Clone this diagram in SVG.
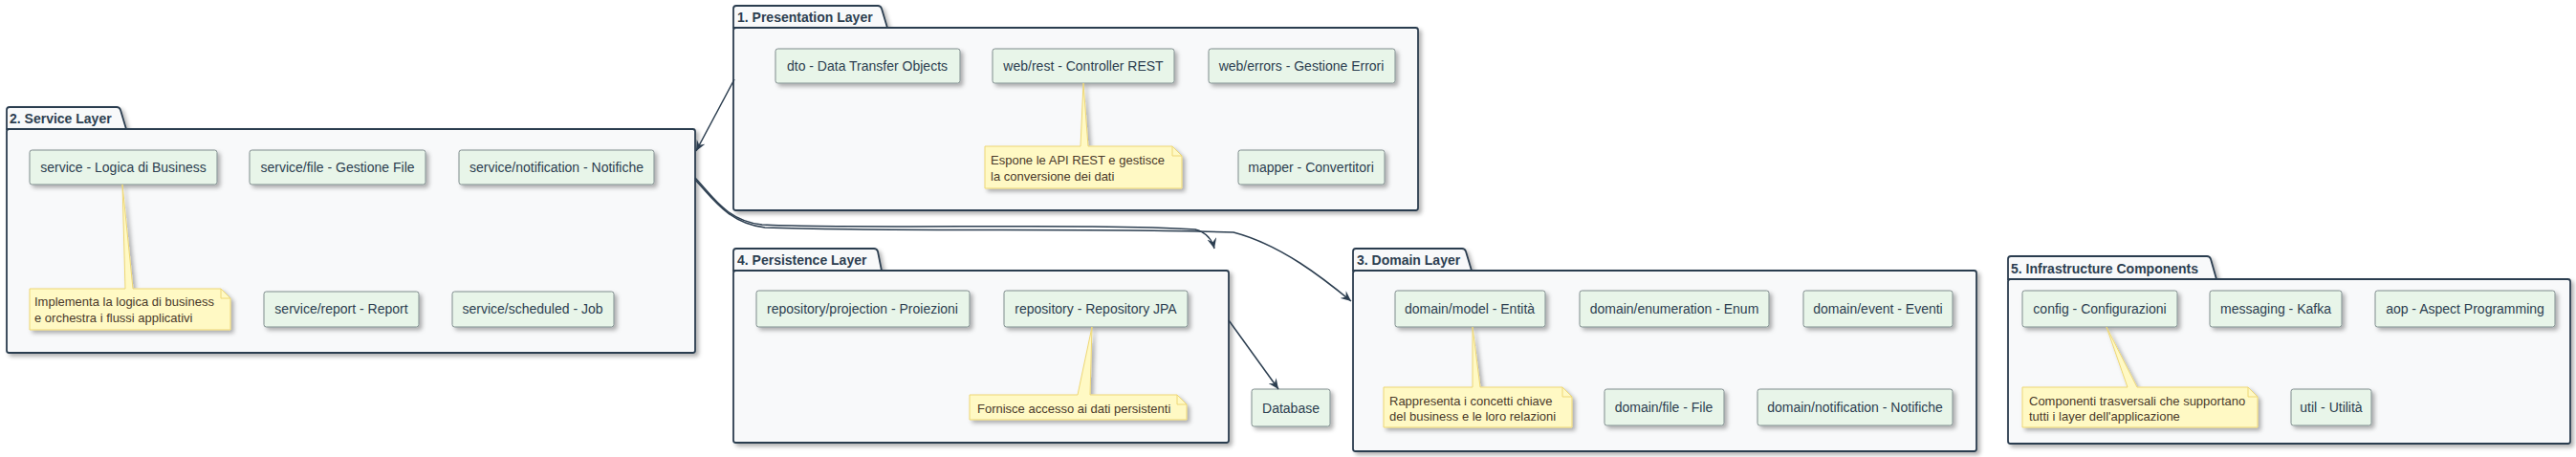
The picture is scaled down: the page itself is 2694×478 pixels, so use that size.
<svg xmlns="http://www.w3.org/2000/svg" width="2694" height="478" viewBox="0 0 2694 478">
<defs>
<filter id="sh" x="-10%" y="-10%" width="130%" height="140%">
<feDropShadow dx="3" dy="3" stdDeviation="2" flood-color="#000" flood-opacity="0.3"/>
</filter>
<marker id="arr" viewBox="0 0 12 10" refX="11" refY="5" markerWidth="12" markerHeight="10" markerUnits="userSpaceOnUse" orient="auto">
<path d="M0,0 L11,5 L0,10 L4,5 Z" fill="#2c3e50"/>
</marker>
<style>
.pkg{fill:#F8F9FA;stroke:#2c3e50;stroke-width:1.8;filter:url(#sh)}
.ptitle{font-family:"Liberation Sans",Arial,sans-serif;font-size:14px;font-weight:bold;fill:#2c3e50}
.node{fill:#E8F5E9;stroke:#7f8c8d;stroke-width:1;filter:url(#sh)}
.nt{font-family:"Liberation Sans",Arial,sans-serif;font-size:14px;fill:#2c3e50;text-anchor:middle}
.note{fill:#FFF9C4;stroke:#EED774;stroke-width:1;filter:url(#sh)}
.fold{fill:none;stroke:#EED774;stroke-width:1}
.ntxt{font-family:"Liberation Sans",Arial,sans-serif;font-size:13px;fill:#4a3a2a}
.conn{fill:none;stroke:#2c3e50;stroke-width:1.5}
</style>
</defs>

<g id="pkg-presentation">
<path class="pkg" d="M767,29 L767,9 Q767,6 770,6 L918,6 Q921,6 922,9 L928,29 Z"/>
<rect class="pkg" x="767" y="29" width="716" height="191" rx="2.5"/>
<text class="ptitle" x="771" y="23">1. Presentation Layer</text>
</g>
<g id="pkg-service">
<path class="pkg" d="M7,135 L7,115 Q7,112 10,112 L122,112 Q125,112 126,115 L132,135 Z"/>
<rect class="pkg" x="7" y="135" width="720" height="234" rx="2.5"/>
<text class="ptitle" x="10" y="129">2. Service Layer</text>
</g>
<g id="pkg-persistence">
<path class="pkg" d="M767,283 L767,263 Q767,260 770,260 L914,260 Q917,260 918,263 L922,283 Z"/>
<rect class="pkg" x="767" y="283" width="518" height="180" rx="2.5"/>
<text class="ptitle" x="771" y="277">4. Persistence Layer</text>
</g>
<g id="pkg-domain">
<path class="pkg" d="M1415,283 L1415,263 Q1415,260 1418,260 L1529,260 Q1532,260 1533,263 L1539,283 Z"/>
<rect class="pkg" x="1415" y="283" width="652" height="189" rx="2.5"/>
<text class="ptitle" x="1419" y="277">3. Domain Layer</text>
</g>
<g id="pkg-infrastructure">
<path class="pkg" d="M2100,292 L2100,271 Q2100,268 2103,268 L2308,268 Q2311,268 2312,271 L2318,292 Z"/>
<rect class="pkg" x="2100" y="292" width="588" height="172" rx="2.5"/>
<text class="ptitle" x="2103" y="286">5. Infrastructure Components</text>
</g>

<!-- Presentation nodes -->
<g id="dto"><rect class="node" x="811" y="51" width="193" height="36" rx="2.5"/><text class="nt" x="907" y="74">dto - Data Transfer Objects</text></g>
<g id="web-rest"><rect class="node" x="1038" y="51" width="190" height="36" rx="2.5"/><text class="nt" x="1133" y="74">web/rest - Controller REST</text></g>
<g id="web-errors"><rect class="node" x="1264" y="51" width="195" height="36" rx="2.5"/><text class="nt" x="1361" y="74">web/errors - Gestione Errori</text></g>
<g id="mapper"><rect class="node" x="1295" y="157" width="153" height="36" rx="2.5"/><text class="nt" x="1371" y="180">mapper - Convertitori</text></g>
<g id="note-presentation">
<path class="note" d="M1030,153 L1130,153 L1133,87 L1138,153 L1226,153 L1236,163 L1236,197 L1030,197 Z"/>
<path class="fold" d="M1226,153 L1226,163 L1236,163"/>
<text class="ntxt" x="1036" y="172">Espone le API REST e gestisce</text>
<text class="ntxt" x="1036" y="189">la conversione dei dati</text>
</g>

<!-- Service nodes -->
<g id="service"><rect class="node" x="31" y="157" width="196" height="36" rx="2.5"/><text class="nt" x="129" y="180">service - Logica di Business</text></g>
<g id="service-file"><rect class="node" x="261" y="157" width="184" height="36" rx="2.5"/><text class="nt" x="353" y="180">service/file - Gestione File</text></g>
<g id="service-notification"><rect class="node" x="480" y="157" width="204" height="36" rx="2.5"/><text class="nt" x="582" y="180">service/notification - Notifiche</text></g>
<g id="service-report"><rect class="node" x="276" y="305" width="162" height="37" rx="2.5"/><text class="nt" x="357" y="328">service/report - Report</text></g>
<g id="service-scheduled"><rect class="node" x="473" y="305" width="169" height="37" rx="2.5"/><text class="nt" x="557" y="328">service/scheduled - Job</text></g>
<g id="note-service">
<path class="note" d="M31,302 L131,302 L128,193 L139,302 L231,302 L241,312 L241,345 L31,345 Z"/>
<path class="fold" d="M231,302 L231,312 L241,312"/>
<text class="ntxt" x="36" y="320">Implementa la logica di business</text>
<text class="ntxt" x="36" y="337">e orchestra i flussi applicativi</text>
</g>

<!-- Persistence nodes -->
<g id="repo-projection"><rect class="node" x="791" y="304" width="223" height="38" rx="2.5"/><text class="nt" x="902" y="328">repository/projection - Proiezioni</text></g>
<g id="repository"><rect class="node" x="1050" y="304" width="192" height="38" rx="2.5"/><text class="nt" x="1146" y="328">repository - Repository JPA</text></g>
<g id="note-persistence">
<path class="note" d="M1014,413 L1127,413 L1142,342 L1140,413 L1231,413 L1241,423 L1241,439 L1014,439 Z"/>
<path class="fold" d="M1231,413 L1231,423 L1241,423"/>
<text class="ntxt" x="1022" y="432">Fornisce accesso ai dati persistenti</text>
</g>

<g id="database"><rect class="node" x="1309" y="407" width="82" height="39" rx="2.5"/><text class="nt" x="1350" y="432">Database</text></g>

<!-- Domain nodes -->
<g id="domain-model"><rect class="node" x="1459" y="304" width="157" height="38" rx="2.5"/><text class="nt" x="1537" y="328">domain/model - Entità</text></g>
<g id="domain-enumeration"><rect class="node" x="1652" y="304" width="198" height="38" rx="2.5"/><text class="nt" x="1751" y="328">domain/enumeration - Enum</text></g>
<g id="domain-event"><rect class="node" x="1886" y="304" width="156" height="38" rx="2.5"/><text class="nt" x="1964" y="328">domain/event - Eventi</text></g>
<g id="domain-file"><rect class="node" x="1678" y="407" width="125" height="38" rx="2.5"/><text class="nt" x="1740" y="431">domain/file - File</text></g>
<g id="domain-notification"><rect class="node" x="1838" y="407" width="204" height="38" rx="2.5"/><text class="nt" x="1940" y="431">domain/notification - Notifiche</text></g>
<g id="note-domain">
<path class="note" d="M1447,405 L1540,405 L1540,342 L1548,405 L1634,405 L1644,415 L1644,447 L1447,447 Z"/>
<path class="fold" d="M1634,405 L1634,415 L1644,415"/>
<text class="ntxt" x="1453" y="424">Rappresenta i concetti chiave</text>
<text class="ntxt" x="1453" y="440">del business e le loro relazioni</text>
</g>

<!-- Infrastructure nodes -->
<g id="config"><rect class="node" x="2115" y="304" width="162" height="38" rx="2.5"/><text class="nt" x="2196" y="328">config - Configurazioni</text></g>
<g id="messaging"><rect class="node" x="2311" y="304" width="138" height="38" rx="2.5"/><text class="nt" x="2380" y="328">messaging - Kafka</text></g>
<g id="aop"><rect class="node" x="2484" y="304" width="188" height="38" rx="2.5"/><text class="nt" x="2578" y="328">aop - Aspect Programming</text></g>
<g id="util"><rect class="node" x="2396" y="407" width="84" height="38" rx="2.5"/><text class="nt" x="2438" y="431">util - Utilità</text></g>
<g id="note-infrastructure">
<path class="note" d="M2115,405 L2225,405 L2203,342 L2235,405 L2351,405 L2361,415 L2361,447 L2115,447 Z"/>
<path class="fold" d="M2351,405 L2351,415 L2361,415"/>
<text class="ntxt" x="2122" y="424">Componenti trasversali che supportano</text>
<text class="ntxt" x="2122" y="440">tutti i layer dell'applicazione</text>
</g>

<g id="connectors">
<path class="conn" d="M768,83 L728,158" marker-end="url(#arr)"/>
<path class="conn" d="M727,186 C745,205 760,231 797,235 C900,240 1150,233 1250,240 C1262,243 1268,252 1270,260" marker-end="url(#arr)"/>
<path class="conn" d="M727,188 C745,207 762,234 800,238 C950,243 1150,238 1290,243 C1340,256 1385,292 1413,315" marker-end="url(#arr)"/>
<path class="conn" d="M1285,335 L1337,407" marker-end="url(#arr)"/>
</g>
</svg>
